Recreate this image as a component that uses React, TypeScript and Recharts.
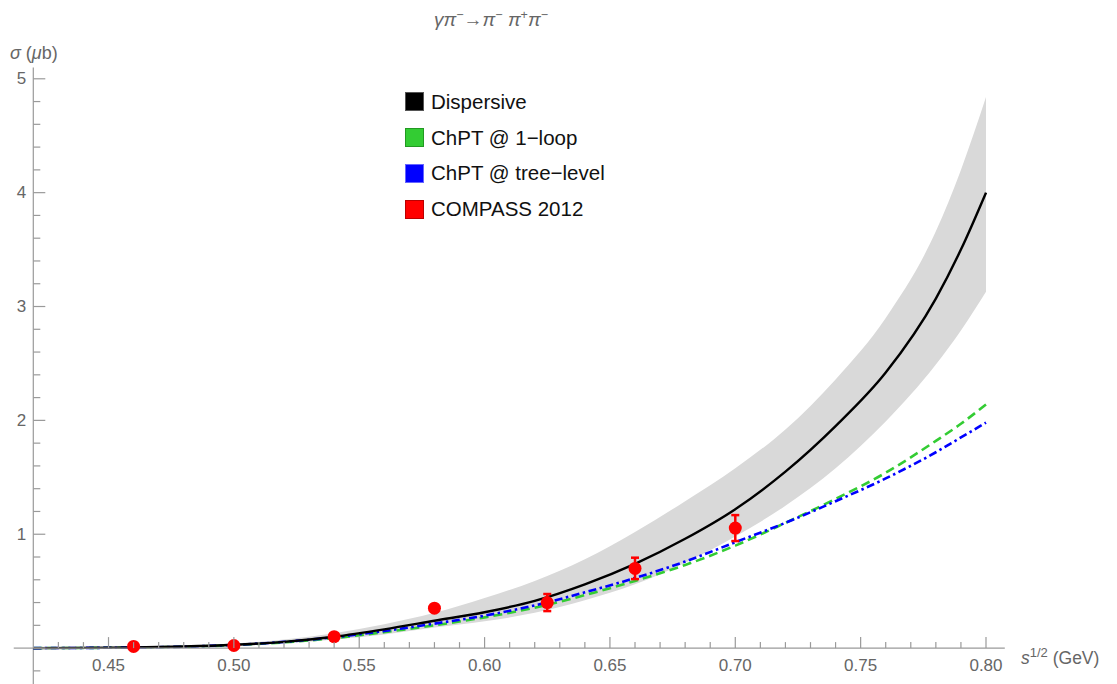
import React from 'react';
import {
  ComposedChart,
  Line,
  Area,
  Scatter,
  ErrorBar,
  XAxis,
  YAxis,
  ReferenceLine,
  Legend,
} from 'recharts';

// sqrt(s) in GeV
const energy = [0.42, 0.44, 0.46, 0.48, 0.5, 0.52, 0.54, 0.56, 0.58, 0.6, 0.62, 0.64, 0.66, 0.68, 0.7, 0.72, 0.74, 0.76, 0.78, 0.79, 0.8];
const dispersive = [0, 0.002, 0.006, 0.014, 0.029, 0.055, 0.1, 0.165, 0.24, 0.315, 0.415, 0.56, 0.74, 0.96, 1.22, 1.55, 1.95, 2.42, 3.07, 3.5, 4.0];
const bandLow = [0, 0.001, 0.004, 0.01, 0.021, 0.04, 0.075, 0.12, 0.18, 0.235, 0.31, 0.42, 0.56, 0.75, 0.98, 1.25, 1.58, 1.99, 2.49, 2.79, 3.13];
const bandHigh = [0, 0.003, 0.009, 0.02, 0.04, 0.075, 0.13, 0.21, 0.31, 0.44, 0.59, 0.78, 1.02, 1.29, 1.58, 1.92, 2.36, 2.9, 3.66, 4.2, 4.84];
const oneLoop = [0, 0.0015, 0.005, 0.012, 0.026, 0.05, 0.088, 0.14, 0.2, 0.27, 0.355, 0.465, 0.59, 0.73, 0.9, 1.1, 1.31, 1.54, 1.82, 1.97, 2.14];
const treeLevel = [0, 0.0015, 0.005, 0.013, 0.028, 0.055, 0.095, 0.15, 0.215, 0.285, 0.375, 0.49, 0.615, 0.76, 0.93, 1.1, 1.29, 1.49, 1.72, 1.85, 1.98];

// COMPASS 2012 points
const compassEnergy = [0.46, 0.5, 0.54, 0.58, 0.625, 0.66, 0.7];
const compassSigma = [0.015, 0.023, 0.1, 0.351, 0.4, 0.7, 1.054];
const compassErr = [0.01, 0.01, 0.015, 0.02, 0.075, 0.094, 0.114];

const xTicks = [0.43, 0.44, 0.45, 0.46, 0.47, 0.48, 0.49, 0.5, 0.51, 0.52, 0.53, 0.54, 0.55, 0.56, 0.57, 0.58, 0.59, 0.6, 0.61, 0.62, 0.63, 0.64, 0.65, 0.66, 0.67, 0.68, 0.69, 0.7, 0.71, 0.72, 0.73, 0.74, 0.75, 0.76, 0.77, 0.78, 0.79, 0.8];
const yTicks = [0, 0.2, 0.4, 0.6, 0.8, 1, 1.2, 1.4, 1.6, 1.8, 2, 2.2, 2.4, 2.6, 2.8, 3, 3.2, 3.4, 3.6, 3.8, 4, 4.2, 4.4, 4.6, 4.8, 5];

const legendItems = [
  { name: 'Dispersive', fill: '#000000', border: '#555555' },
  { name: 'ChPT @ 1\u2212loop', fill: '#33cc33', border: '#229922' },
  { name: 'ChPT @ tree\u2212level', fill: '#0000ff', border: '#6666ff' },
  { name: 'COMPASS 2012', fill: '#ff0000', border: '#bb0000' },
];

const FONT = '"Liberation Sans", Arial, Helvetica, sans-serif';
const AXIS_GRAY = '#9a9a9a';
const LABEL_GRAY = '#666666';

const curveRows = energy.map((e, i) => ({
  energy: e,
  dispersive: dispersive[i],
  band: [bandLow[i], bandHigh[i]],
  oneLoop: oneLoop[i],
  treeLevel: treeLevel[i],
}));

const compassRows = compassEnergy.map((e, i) => ({
  energy: e,
  sigma: compassSigma[i],
  err: compassErr[i],
}));

function XTick(props: any) {
  const { x, y, payload } = props;
  const v = payload.value;
  const major = Math.round(v * 100) % 5 === 0;
  return (
    <g>
      <line x1={x} x2={x} y1={y} y2={y - (major ? 11 : 6)} stroke={AXIS_GRAY} strokeWidth={1.2} />
      {major && (
        <text x={x} y={y + 17} textAnchor="middle" dominantBaseline="central" fontSize={17} fill={LABEL_GRAY} fontFamily={FONT}>
          {v.toFixed(2)}
        </text>
      )}
    </g>
  );
}

function YTick(props: any) {
  const { x, y, payload } = props;
  const v = payload.value;
  const major = Math.abs(v - Math.round(v)) < 1e-6;
  return (
    <g>
      <line x1={x} x2={x + (major ? 12 : 7)} y1={y} y2={y} stroke={AXIS_GRAY} strokeWidth={1.2} />
      {major && v !== 0 && (
        <text x={x - 7} y={y} textAnchor="end" dominantBaseline="central" fontSize={17} fill={LABEL_GRAY} fontFamily={FONT}>
          {v}
        </text>
      )}
    </g>
  );
}

function RedDot(props: any) {
  const { cx, cy } = props;
  return <circle cx={cx} cy={cy} r={6.5} fill="#ff0000" />;
}

function LegendBox() {
  return (
    <div style={{ fontFamily: FONT, fontSize: 20.5, color: '#111' }}>
      {legendItems.map((item) => (
        <div key={item.name} style={{ display: 'flex', alignItems: 'center', height: 35.8 }}>
          <div
            style={{
              width: 17,
              height: 17,
              background: item.fill,
              border: `1px solid ${item.border}`,
              marginRight: 7,
            }}
          />
          <span style={{ whiteSpace: 'nowrap' }}>{item.name}</span>
        </div>
      ))}
    </div>
  );
}

const sup = { fontSize: 12.5 };

export default function App() {
  return (
    <div style={{ position: 'absolute', left: 0, top: 0, width: 1117, height: 684, background: '#fff' }}>
      <ComposedChart
        width={1117}
        height={684}
        data={curveRows}
        margin={{ top: 67.4, right: 112.2, left: 0, bottom: 0 }}
      >
        <XAxis
          type="number"
          dataKey="energy"
          domain={[0.42, 0.8075]}
          ticks={xTicks}
          interval={0}
          tick={<XTick />}
          tickLine={false}
          tickSize={0}
          tickMargin={0}
          height={35.9}
          axisLine={{ stroke: AXIS_GRAY, strokeWidth: 1.2 }}
        />
        <YAxis
          type="number"
          domain={[0, 5.1]}
          ticks={yTicks}
          interval={0}
          tick={<YTick />}
          tickLine={false}
          tickSize={0}
          tickMargin={0}
          width={33.3}
          axisLine={{ stroke: AXIS_GRAY, strokeWidth: 1.2 }}
        />

        {/* axis stubs that Mathematica draws past the crossing point */}
        <ReferenceLine segment={[{ x: 0.4122, y: 0 }, { x: 0.42, y: 0 }]} stroke={AXIS_GRAY} strokeWidth={1.2} ifOverflow="visible" />
        <ReferenceLine segment={[{ x: 0.42, y: 0 }, { x: 0.42, y: -0.316 }]} stroke={AXIS_GRAY} strokeWidth={1.2} ifOverflow="visible" />
        <ReferenceLine segment={[{ x: 0.42, y: -0.2 }, { x: 0.4228, y: -0.2 }]} stroke={AXIS_GRAY} strokeWidth={1.2} ifOverflow="visible" />

        <Area type="monotone" dataKey="band" fill="#d9d9d9" fillOpacity={1} stroke="none" isAnimationActive={false} activeDot={false} />
        <Line type="monotone" dataKey="oneLoop" stroke="#33cc33" strokeWidth={2.6} strokeDasharray="9 5" dot={false} activeDot={false} isAnimationActive={false} />
        <Line type="monotone" dataKey="treeLevel" stroke="#0000ff" strokeWidth={2.6} strokeDasharray="8 3.5 2.5 3.5" dot={false} activeDot={false} isAnimationActive={false} />
        <Line type="monotone" dataKey="dispersive" stroke="#000000" strokeWidth={2.4} dot={false} activeDot={false} isAnimationActive={false} />
        <Scatter data={compassRows} dataKey="sigma" fill="#ff0000" shape={<RedDot />} isAnimationActive={false}>
          <ErrorBar dataKey="err" direction="y" width={4} strokeWidth={2.5} stroke="#ff0000" />
        </Scatter>

        <Legend
          layout="vertical"
          align="center"
          verticalAlign="middle"
          wrapperStyle={{ left: 405, top: 84, width: 260, height: 146 }}
          content={() => <LegendBox />}
        />
      </ComposedChart>

      <div style={{ position: 'absolute', left: 434, top: 3, fontFamily: FONT, fontSize: 19, color: LABEL_GRAY, whiteSpace: 'nowrap', lineHeight: '24px' }}>
        <i>γπ</i><sup style={sup}>−</sup>→<i>π</i><sup style={sup}>−</sup> <i>π</i><sup style={sup}>+</sup><i>π</i><sup style={sup}>−</sup>
      </div>
      <div style={{ position: 'absolute', left: 10, top: 42, fontFamily: FONT, fontSize: 18, color: LABEL_GRAY, whiteSpace: 'nowrap', lineHeight: '22px' }}>
        <i>σ</i> (<i>μ</i>b)
      </div>
      <div style={{ position: 'absolute', left: 1021, top: 641, fontFamily: FONT, fontSize: 17.5, color: LABEL_GRAY, whiteSpace: 'nowrap', lineHeight: '24px' }}>
        <i>s</i><sup style={{ fontSize: 13 }}>1/2</sup> (GeV)
      </div>
    </div>
  );
}
